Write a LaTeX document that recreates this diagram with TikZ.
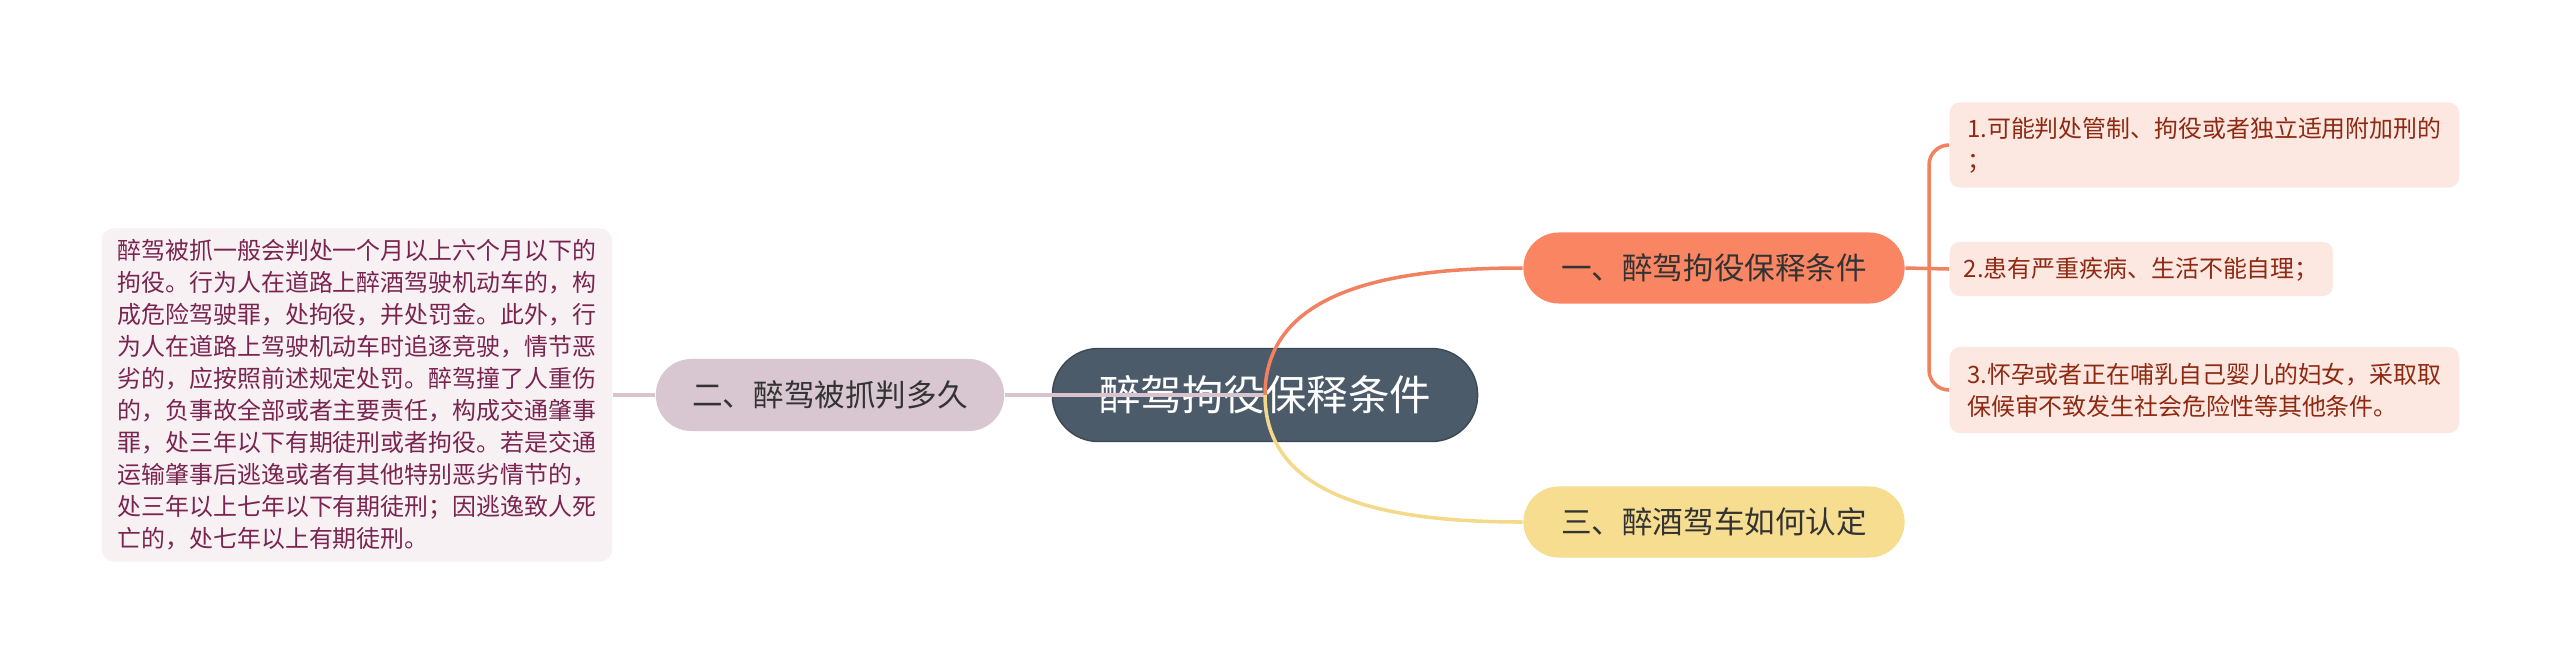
\documentclass[tikz,border=0pt]{standalone}
\usepackage{fontspec}
\setmainfont{Noto Sans CJK SC}
\usepackage[]{color}
\usepackage{tikz}

\definecolor{rootfill}{HTML}{4B5B6A}
\definecolor{onefill}{HTML}{F98563}
\definecolor{twofill}{HTML}{D8C6D0}
\definecolor{threefill}{HTML}{F6DD90}
\definecolor{leaffill}{HTML}{FDE7E1}
\definecolor{leaftext}{HTML}{8E2A12}
\definecolor{boxfill}{HTML}{F7F1F4}
\definecolor{boxtext}{HTML}{7A2450}
\definecolor{oneline}{HTML}{F2815F}
\definecolor{twoline}{HTML}{D9C3CE}
\definecolor{threeline}{HTML}{F4D98A}

\newcommand{\rootsize}{\fontsize{11.8pt}{14pt}\selectfont}
\newcommand{\subsize}{\fontsize{8.7pt}{10pt}\selectfont}
\newcommand{\leafsize}{\fontsize{6.8pt}{9.1pt}\selectfont}

\tikzset{
  rootnode/.style = {fill = rootfill, draw = rootfill!80!black, thin, text = white,
    rounded corners = 0.46cm, minimum width = 4.25cm, minimum height = 0.93cm,
    font = \rootsize},
  subnode/.style = {rounded corners = 0.355cm, minimum width = 3.81cm,
    minimum height = 0.71cm, text = black!80, font = \subsize},
  leafnode/.style = {fill = leaffill, text = leaftext, rounded corners = 0.1cm,
    align = left, inner xsep = 0.14cm, inner ysep = 0.1cm, anchor = west,
    font = \leafsize},
  conn/.style = {line width = 1pt},
}

\begin{document}
\begin{tikzpicture}[x = 0.01cm, y = -0.01cm]
\useasboundingbox[fill = white] (0, 0) rectangle (2560, 666);

% centre and first level
\node (root) [rootnode] at (1265, 395) {醉驾拘役保释条件};
\node (one) [subnode, fill = onefill] at (1714, 268) {一、醉驾拘役保释条件};
\node (two) [subnode, fill = twofill, minimum width = 3.48cm,
  minimum height = 0.72cm] at (830, 395) {二、醉驾被抓判多久};
\node (three) [subnode, fill = threefill] at (1714, 522) {三、醉酒驾车如何认定};

% leaves of one
\node (leafa) [leafnode, minimum width = 5.09cm, minimum height = 0.85cm]
  at (1949, 145) {1.可能判处管制、拘役或者独立适用附加刑的\\；};
\node (leafb) [leafnode, minimum width = 3.83cm, minimum height = 0.54cm]
  at (1949, 269) {2.患有严重疾病、生活不能自理；};
\node (leafc) [leafnode, minimum width = 5.09cm, minimum height = 0.86cm]
  at (1949, 390) {3.怀孕或者正在哺乳自己婴儿的妇女，采取取\\保候审不致发生社会危险性等其他条件。};

% text of two
\node (detail) [leafnode, fill = boxfill, text = boxtext, rounded corners = 0.12cm,
  minimum width = 5.1cm, minimum height = 3.33cm, inner xsep = 0.15cm]
  at (101, 395) {醉驾被抓一般会判处一个月以上六个月以下的\\
拘役。行为人在道路上醉酒驾驶机动车的，构\\
成危险驾驶罪，处拘役，并处罚金。此外，行\\
为人在道路上驾驶机动车时追逐竞驶，情节恶\\
劣的，应按照前述规定处罚。醉驾撞了人重伤\\
的，负事故全部或者主要责任，构成交通肇事\\
罪，处三年以下有期徒刑或者拘役。若是交通\\
运输肇事后逃逸或者有其他特别恶劣情节的，\\
处三年以上七年以下有期徒刑；因逃逸致人死\\
亡的，处七年以上有期徒刑。};

% connectors
\draw [conn, color = twoline] (root.center) to (two.east);
\draw [conn, color = twoline] (two.west) to (detail.east);
\draw [conn, color = oneline] (root.center) to [out = 90, in = 180] (one.west);
\draw [conn, color = threeline] (root.center) to [out = -90, in = 180] (three.west);

\coordinate (fork) at (1929, 268);
\draw [conn, color = oneline] (one.east) to (leafb.west);
\draw [conn, color = oneline, rounded corners = 0.2cm] (fork) |- (leafa.west);
\draw [conn, color = oneline, rounded corners = 0.2cm] (fork) |- (leafc.west);
\end{tikzpicture}
\end{document}
